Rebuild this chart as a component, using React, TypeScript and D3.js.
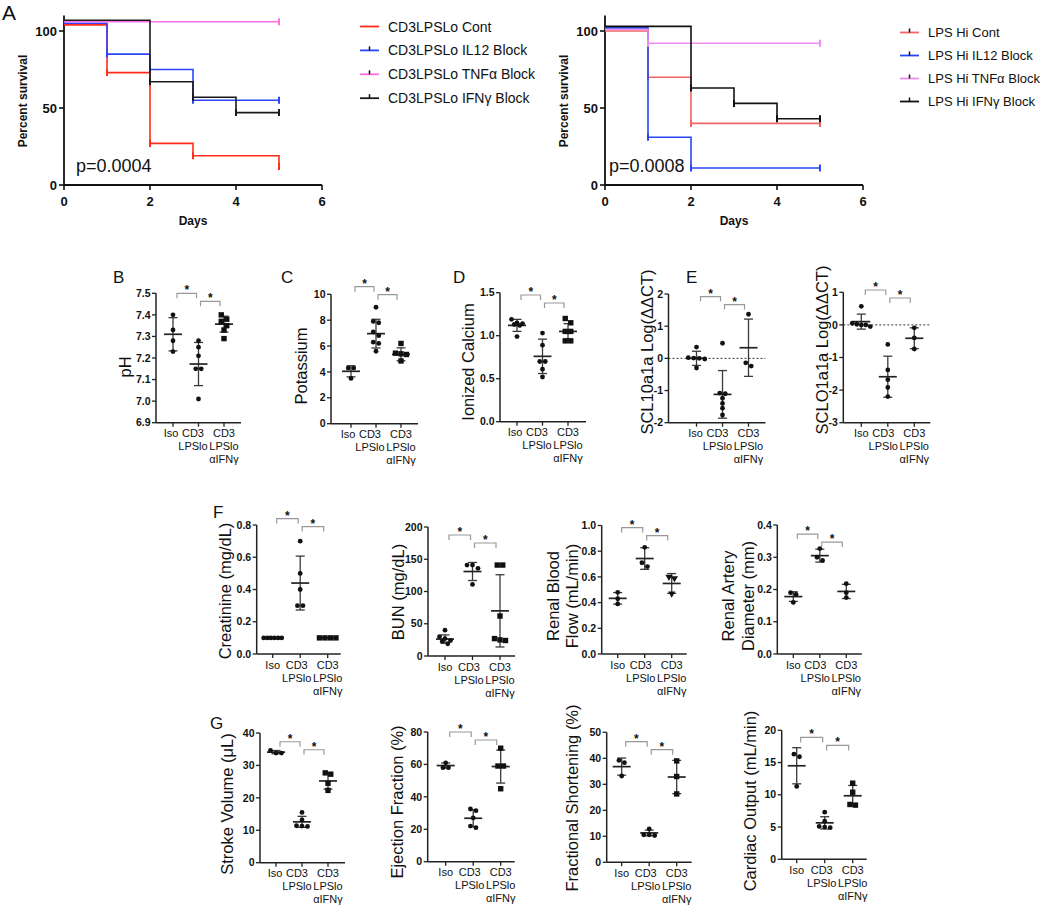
import React from 'react';
import * as d3 from 'd3';

const FONT = '"Liberation Sans", Arial, Helvetica, sans-serif';

// ---------- Panel A: survival ----------
const SURV_DAYS = [0, 1, 2, 3, 4, 5];
const SURV_X_TICKS = [0, 2, 4, 6];
const SURV_Y_TICKS = [0, 50, 100];

const LO_NAMES = ['CD3LPSLo Cont', 'CD3LPSLo IL12 Block', 'CD3LPSLo TNFα Block', 'CD3LPSLo IFNγ Block'];
// value held from day i to i+1; last entry = value at day 5
const LO_CONT = [104, 73, 27, 19, 19, 12];
const LO_IL12 = [105, 85, 75, 55, 55, 55];
const LO_TNF = [106, 106, 106, 106, 106, 106];
const LO_IFN = [107, 107, 67, 57, 47, 47];
const LO_P = 'p=0.0004';

const HI_NAMES = ['LPS Hi Cont', 'LPS Hi IL12 Block', 'LPS Hi TNFα Block', 'LPS Hi IFNγ Block'];
const HI_CONT = [100, 70, 40, 40, 40, 40];
const HI_IL12 = [102, 31, 11, 11, 11, 11];
const HI_TNF = [101, 92, 92, 92, 92, 92];
const HI_IFN = [103, 103, 63, 53, 43, 43];
const HI_P = 'p=0.0008';

// ---------- Panels B-G: dot plots ----------
const GROUPS = ['Iso', 'CD3 LPSlo', 'CD3 LPSlo αIFNγ'];
const GROUP_LINES = [['Iso'], ['CD3', 'LPSlo'], ['CD3', 'LPSlo', 'αIFNγ']];

const PH_TICKS = [6.9, 7.0, 7.1, 7.2, 7.3, 7.4, 7.5];
const PH_ISO = [7.40, 7.33, 7.28, 7.23];
const PH_CD3 = [7.28, 7.25, 7.21, 7.15, 7.15, 7.01];
const PH_IFN = [7.40, 7.38, 7.37, 7.35, 7.33, 7.29];
const PH_MEAN = [7.31, 7.172, 7.357];
const PH_SD = [0.077, 0.1, 0.037];

const K_TICKS = [0, 2, 4, 6, 8, 10];
const K_ISO = [4.3, 4.3, 3.5];
const K_CD3 = [9.0, 7.9, 7.8, 7.1, 6.8, 6.3, 6.2, 5.6];
const K_IFN = [6.2, 5.45, 5.4, 5.35, 4.85];
const K_MEAN = [4.05, 6.96, 5.36];
const K_SD = [0.43, 1.11, 0.5];

const CA_TICKS = [0, 0.5, 1.0, 1.5];
const CA_ISO = [1.19, 1.15, 1.14, 1.13, 1.12, 0.99];
const CA_CD3 = [1.03, 0.89, 0.70, 0.70, 0.61, 0.52];
const CA_IFN = [1.20, 1.15, 1.05, 1.05, 0.94, 0.94];
const CA_MEAN = [1.12, 0.76, 1.05];
const CA_SD = [0.07, 0.2, 0.09];

const SCL_TICKS = [-2, -1, 0, 1, 2];
const SCL_ISO = [0.35, 0.02, 0.01, 0.0, -0.02, -0.3];
const SCL_CD3 = [0.47, -1.08, -1.1, -1.24, -1.4, -1.55, -1.76];
const SCL_IFN = [1.37, -0.14, -0.24];
const SCL_MEAN = [0.0, -1.12, 0.33];
const SCL_SD = [0.22, 0.74, 0.89];

const SLCO_TICKS = [-3, -2, -1, 0, 1];
const SLCO_ISO = [0.57, 0.05, 0.02, 0.0, 0.0, -0.05];
const SLCO_CD3 = [-0.6, -1.38, -1.68, -1.92, -2.2];
const SLCO_IFN = [-0.09, -0.4, -0.74];
const SLCO_MEAN = [0.1, -1.59, -0.41];
const SLCO_SD = [0.23, 0.63, 0.32];

const CR_TICKS = [0, 0.2, 0.4, 0.6, 0.8];
const CR_ISO = [0.1, 0.1, 0.1, 0.1, 0.1, 0.1];
const CR_CD3 = [0.7, 0.5, 0.4, 0.3, 0.3];
const CR_IFN = [0.1, 0.1, 0.1, 0.1];
const CR_MEAN = [0.1, 0.44, 0.1];
const CR_SD = [0, 0.167, 0];

const BUN_TICKS = [0, 50, 100, 150, 200];
const BUN_ISO = [40, 30, 27, 24, 23, 19];
const BUN_CD3 = [141, 141, 136, 111];
const BUN_IFN = [141, 141, 62, 27, 25, 24];
const BUN_MEAN = [26.2, 131, 70];
const BUN_SD = [6.5, 14, 56];

const RBF_TICKS = [0, 0.2, 0.4, 0.6, 0.8, 1.0];
const RBF_ISO = [0.48, 0.43, 0.39];
const RBF_CD3 = [0.83, 0.71, 0.68];
const RBF_IFN = [0.60, 0.59, 0.47];
const RBF_MEAN = [0.433, 0.743, 0.549];
const RBF_SD = [0.045, 0.084, 0.077];

const RAD_TICKS = [0, 0.1, 0.2, 0.3, 0.4];
const RAD_ISO = [0.19, 0.185, 0.16];
const RAD_CD3 = [0.327, 0.30, 0.29];
const RAD_IFN = [0.218, 0.19, 0.175];
const RAD_MEAN = [0.178, 0.305, 0.194];
const RAD_SD = [0.015, 0.02, 0.022];

const SV_TICKS = [0, 10, 20, 30, 40];
const SV_ISO = [34.6, 33.8, 33.8];
const SV_CD3 = [15.5, 13.2, 11.3, 11.2, 11.4];
const SV_IFN = [27.7, 27.3, 24.5, 22.3];
const SV_MEAN = [34.1, 12.6, 25.2];
const SV_SD = [0.5, 1.7, 2.5];

const EF_TICKS = [0, 20, 40, 60, 80];
const EF_ISO = [61, 58, 58];
const EF_CD3 = [32.5, 31.5, 27, 22, 21];
const EF_IFN = [70, 59, 59, 45];
const EF_MEAN = [59.3, 26.8, 58.7];
const EF_SD = [1.6, 5.3, 10.2];

const FS_TICKS = [0, 10, 20, 30, 40, 50];
const FS_ISO = [39.2, 38.3, 33.2];
const FS_CD3 = [12.8, 10.6, 10.3, 10.6];
const FS_IFN = [39, 33, 26.3];
const FS_MEAN = [36.8, 11.3, 32.8];
const FS_SD = [3.3, 1.1, 6.4];

const CO_TICKS = [0, 5, 10, 15, 20];
const CO_ISO = [16.3, 15.9, 11.3];
const CO_CD3 = [7.3, 5.9, 5.1, 5.0, 4.9];
const CO_IFN = [11.8, 10.4, 8.5, 8.4];
const CO_MEAN = [14.5, 5.65, 9.85];
const CO_SD = [2.8, 0.95, 1.6];

// bracket (Iso vs CD3) level in each panel's own units
const BRACKET_LEVELS = [7.5, 10.59, 1.473, 1.92, 1.07, 0.84, 187.6, 0.984, 0.372, 37.3, 80, 46.4, 18.9];

const f1 = (v: number) => v.toFixed(1);
const f0 = (v: number) => String(v);

const CIRCLES = ['circle', 'circle', 'square'];

type Panel = {
  x: number; top: number; bottom: number; width: number; pad: [number, number];
  ticks: number[]; fmt: (v: number) => string;
  values: number[][]; mean: number[]; sd: number[]; bracket: number;
  label: string[]; labelX: number[]; labelY: number; shapes: string[]; zero?: boolean;
};

const PANELS: Panel[] = [
  { x: 156, top: 293.3, bottom: 422.7, width: 85, pad: [17, 68], ticks: PH_TICKS, fmt: f1,
    values: [PH_ISO, PH_CD3, PH_IFN], mean: PH_MEAN, sd: PH_SD, bracket: BRACKET_LEVELS[0],
    label: ['pH'], labelX: [125], labelY: 367, shapes: CIRCLES },
  { x: 331, top: 294.3, bottom: 423.7, width: 87, pad: [20, 70], ticks: K_TICKS, fmt: f0,
    values: [K_ISO, K_CD3, K_IFN], mean: K_MEAN, sd: K_SD, bracket: BRACKET_LEVELS[1],
    label: ['Potassium'], labelX: [301], labelY: 366, shapes: CIRCLES },
  { x: 500, top: 292.7, bottom: 421.7, width: 86, pad: [17, 68], ticks: CA_TICKS, fmt: f1,
    values: [CA_ISO, CA_CD3, CA_IFN], mean: CA_MEAN, sd: CA_SD, bracket: BRACKET_LEVELS[2],
    label: ['Ionized Calcium'], labelX: [468], labelY: 362, shapes: CIRCLES },
  { x: 668.5, top: 294, bottom: 422.7, width: 97, pad: [28, 80], ticks: SCL_TICKS, fmt: f0,
    values: [SCL_ISO, SCL_CD3, SCL_IFN], mean: SCL_MEAN, sd: SCL_SD, bracket: BRACKET_LEVELS[3],
    label: ['SCL10a1a Log(ΔΔCT)'], labelX: [647], labelY: 352, shapes: ['circle', 'circle', 'circle'], zero: true },
  { x: 843.3, top: 292.3, bottom: 422.7, width: 87, pad: [18, 71], ticks: SLCO_TICKS, fmt: f0,
    values: [SLCO_ISO, SLCO_CD3, SLCO_IFN], mean: SLCO_MEAN, sd: SLCO_SD, bracket: BRACKET_LEVELS[4],
    label: ['SCLO1a1a Log(ΔΔCT)'], labelX: [822], labelY: 350, shapes: ['circle', 'circle', 'circle'], zero: true },
  { x: 256.7, top: 525, bottom: 654, width: 84, pad: [16, 71], ticks: CR_TICKS, fmt: f1,
    values: [CR_ISO, CR_CD3, CR_IFN], mean: CR_MEAN, sd: CR_SD, bracket: BRACKET_LEVELS[5],
    label: ['Creatinine (mg/dL)'], labelX: [225], labelY: 591, shapes: CIRCLES },
  { x: 428, top: 527, bottom: 656, width: 87, pad: [17, 72], ticks: BUN_TICKS, fmt: f0,
    values: [BUN_ISO, BUN_CD3, BUN_IFN], mean: BUN_MEAN, sd: BUN_SD, bracket: BRACKET_LEVELS[6],
    label: ['BUN (mg/dL)'], labelX: [398], labelY: 592, shapes: CIRCLES },
  { x: 601.7, top: 525.5, bottom: 654, width: 85, pad: [16, 70], ticks: RBF_TICKS, fmt: f1,
    values: [RBF_ISO, RBF_CD3, RBF_IFN], mean: RBF_MEAN, sd: RBF_SD, bracket: BRACKET_LEVELS[7],
    label: ['Renal Blood', 'Flow (mL/min)'], labelX: [553, 572], labelY: 596, shapes: ['circle', 'circle', 'triangle'] },
  { x: 777.3, top: 525, bottom: 654, width: 84.5, pad: [16, 69], ticks: RAD_TICKS, fmt: f1,
    values: [RAD_ISO, RAD_CD3, RAD_IFN], mean: RAD_MEAN, sd: RAD_SD, bracket: BRACKET_LEVELS[8],
    label: ['Renal Artery', 'Diameter (mm)'], labelX: [728, 748], labelY: 596, shapes: ['circle', 'circle', 'circle'] },
  { x: 260, top: 733, bottom: 862.7, width: 85, pad: [16, 68], ticks: SV_TICKS, fmt: f0,
    values: [SV_ISO, SV_CD3, SV_IFN], mean: SV_MEAN, sd: SV_SD, bracket: BRACKET_LEVELS[9],
    label: ['Stroke Volume (μL)'], labelX: [227], labelY: 804, shapes: CIRCLES },
  { x: 427.7, top: 732, bottom: 861.7, width: 87, pad: [18, 73], ticks: EF_TICKS, fmt: f0,
    values: [EF_ISO, EF_CD3, EF_IFN], mean: EF_MEAN, sd: EF_SD, bracket: BRACKET_LEVELS[10],
    label: ['Ejection Fraction (%)'], labelX: [397], labelY: 802, shapes: CIRCLES },
  { x: 606.7, top: 732.3, bottom: 862.3, width: 85, pad: [15, 70], ticks: FS_TICKS, fmt: f0,
    values: [FS_ISO, FS_CD3, FS_IFN], mean: FS_MEAN, sd: FS_SD, bracket: BRACKET_LEVELS[11],
    label: ['Fractional Shortening (%)'], labelX: [572], labelY: 798, shapes: CIRCLES },
  { x: 781.7, top: 730.3, bottom: 859.3, width: 85, pad: [15, 71], ticks: CO_TICKS, fmt: f0,
    values: [CO_ISO, CO_CD3, CO_IFN], mean: CO_MEAN, sd: CO_SD, bracket: BRACKET_LEVELS[12],
    label: ['Cardiac Output (mL/min)'], labelX: [750], labelY: 801, shapes: CIRCLES },
];

const LETTERS = [
  { t: 'B', x: 113, y: 283 }, { t: 'C', x: 281, y: 283 }, { t: 'D', x: 453, y: 283 },
  { t: 'E', x: 686, y: 283 }, { t: 'F', x: 213, y: 518 }, { t: 'G', x: 210, y: 729 },
];

// spread points that sit at nearly the same height side by side
function spread(vals: number[], y: d3.ScaleLinear<number, number>) {
  const sorted = vals.map(v => ({ v, py: y(v) })).sort((a, b) => a.py - b.py);
  const rows: { v: number; py: number }[][] = [];
  sorted.forEach(d => {
    const last = rows[rows.length - 1];
    if (last && d.py - last[0].py < 4.5) last.push(d);
    else rows.push([d]);
  });
  const out: { py: number; dx: number }[] = [];
  rows.forEach(r => {
    const step = Math.min(5.5, 18 / Math.max(1, r.length - 1));
    r.forEach((d, k) => out.push({ py: d.py, dx: (k - (r.length - 1) / 2) * step }));
  });
  return out;
}

function Marker({ shape, cx, cy }: { shape: string; cx: number; cy: number }) {
  if (shape === 'square') return <rect x={cx - 2.7} y={cy - 2.7} width={5.4} height={5.4} fill="#111" />;
  if (shape === 'triangle') {
    const s = d3.symbol().type(d3.symbolTriangle).size(22)();
    return <path d={s || ''} transform={`translate(${cx},${cy}) rotate(180)`} fill="#111" />;
  }
  return <circle cx={cx} cy={cy} r={2.4} fill="#111" />;
}

function DotPanel({ p }: { p: Panel }) {
  const dom = d3.extent(p.ticks) as [number, number];
  const y = d3.scaleLinear().domain(dom).range([p.bottom, p.top]);
  const x = d3.scalePoint<string>().domain(GROUPS).range([p.x + p.pad[0], p.x + p.pad[1]]);
  const cx = GROUPS.map(g => x(g) as number);
  // labels step left when the columns are tight (as Prism does)
  const mid = Math.min(cx[1], cx[2] - 31);
  const textX = [Math.min(cx[0], mid - 22), mid, cx[2]];
  const b1 = y(p.bracket);
  const b2 = b1 + 8;
  const brackets = [
    { x1: cx[0] + 4, x2: cx[1] - 2, y: b1 },
    { x1: cx[1] + 2, x2: cx[2] - 4, y: b2 },
  ];
  return (
    <g>
      {p.zero && (
        <line x1={p.x} x2={p.x + p.width} y1={y(0)} y2={y(0)} stroke="#333" strokeWidth={1} strokeDasharray="2,2" />
      )}
      {/* axes */}
      <line x1={p.x} x2={p.x} y1={p.top} y2={p.bottom} stroke="#222" strokeWidth={1.5} />
      <line x1={p.x} x2={p.x + p.width} y1={p.bottom} y2={p.bottom} stroke="#222" strokeWidth={1.5} />
      {p.ticks.map(t => (
        <g key={t}>
          <line x1={p.x - 4} x2={p.x} y1={y(t)} y2={y(t)} stroke="#222" strokeWidth={1.3} />
          <text x={p.x - 5.5} y={y(t)} dy="0.35em" textAnchor="end" fontSize={10.5} fontWeight="bold" fill="#111">
            {p.fmt(t)}
          </text>
        </g>
      ))}
      {cx.map((c, i) => (
        <g key={i}>
          <line x1={c} x2={c} y1={p.bottom} y2={p.bottom + 4} stroke="#222" strokeWidth={1.3} />
          {GROUP_LINES[i].map((s, k) => (
            <text key={k} x={textX[i]} y={p.bottom + 14.5 + k * 13} textAnchor="middle" fontSize={11} fill="#111">
              {s}
            </text>
          ))}
        </g>
      ))}
      {/* axis title */}
      {p.label.map((s, k) => (
        <text key={k} transform={`translate(${p.labelX[k]},${p.labelY}) rotate(-90)`} dy="0.35em"
          textAnchor="middle" fontSize={16.5} fill="#111">{s}</text>
      ))}
      {/* mean and SD */}
      {cx.map((c, i) => {
        const lo = y(p.mean[i] - p.sd[i]);
        const hi = y(p.mean[i] + p.sd[i]);
        return (
          <g key={i} stroke="#3a3a3a">
            {p.sd[i] > 0 && (
              <>
                <line x1={c} x2={c} y1={hi} y2={lo} strokeWidth={1.3} />
                <line x1={c - 4.5} x2={c + 4.5} y1={hi} y2={hi} strokeWidth={1.3} />
                <line x1={c - 4.5} x2={c + 4.5} y1={lo} y2={lo} strokeWidth={1.3} />
              </>
            )}
            <line x1={c - 9} x2={c + 9} y1={y(p.mean[i])} y2={y(p.mean[i])} strokeWidth={1.7} stroke="#222" />
          </g>
        );
      })}
      {/* points */}
      {p.values.map((vals, i) =>
        spread(vals, y).map((d, k) => <Marker key={`${i}-${k}`} shape={p.shapes[i]} cx={cx[i] + d.dx} cy={d.py} />)
      )}
      {/* significance brackets */}
      {brackets.map((b, k) => (
        <g key={k}>
          <path d={`M${b.x1},${b.y + 5}V${b.y}H${b.x2}V${b.y + 5}`} fill="none" stroke="#999" strokeWidth={1.2} />
          <text x={(b.x1 + b.x2) / 2} y={b.y + 1} textAnchor="middle" fontSize={12} fontWeight="bold" fill="#111">*</text>
        </g>
      ))}
    </g>
  );
}

type SurvProps = {
  x0: number; names: string[]; series: number[][]; colors: string[]; pText: string; pX: number;
  legendX: number; legendY0: number; legendGap: number; legendSize: number; legendTick: boolean[];
};

function SurvivalPanel({ x0, names, series, colors, pText, pX, legendX, legendY0, legendGap, legendSize, legendTick }: SurvProps) {
  const x = d3.scaleLinear().domain([0, 6]).range([x0, x0 + 258]);
  const y = d3.scaleLinear().domain([0, 110]).range([185, 15.6]);
  const line = d3.line<number>().x((_, i) => x(SURV_DAYS[i])).y(v => y(v)).curve(d3.curveStepAfter);
  return (
    <g>
      <line x1={x0} x2={x0} y1={y(110)} y2={y(0)} stroke="#111" strokeWidth={1.8} />
      <line x1={x0} x2={x(6)} y1={y(0)} y2={y(0)} stroke="#111" strokeWidth={1.8} />
      {SURV_Y_TICKS.map(t => (
        <g key={t}>
          <line x1={x0 - 5} x2={x0} y1={y(t)} y2={y(t)} stroke="#111" strokeWidth={1.6} />
          <text x={x0 - 7} y={y(t)} dy="0.36em" textAnchor="end" fontSize={13} fontWeight="bold" fill="#111">{t}</text>
        </g>
      ))}
      {SURV_X_TICKS.map(t => (
        <g key={t}>
          <line x1={x(t)} x2={x(t)} y1={y(0)} y2={y(0) + 5} stroke="#111" strokeWidth={1.6} />
          <text x={x(t)} y={y(0) + 21} textAnchor="middle" fontSize={13} fontWeight="bold" fill="#111">{t}</text>
        </g>
      ))}
      <text x={x(3)} y={y(0) + 40} textAnchor="middle" fontSize={12} fontWeight="bold" fill="#111">Days</text>
      <text transform={`translate(${x0 - 41},${101}) rotate(-90)`} dy="0.35em" textAnchor="middle"
        fontSize={12} fontWeight="bold" fill="#111">Percent survival</text>
      {series.map((s, i) => (
        <g key={i} stroke={colors[i]} strokeWidth={1.6} fill="none">
          <path d={line(s) || ''} />
          {s.map((v, d) =>
            d > 0 && (v < s[d - 1] || d === s.length - 1) ? (
              <line key={d} x1={x(SURV_DAYS[d])} x2={x(SURV_DAYS[d])} y1={y(v) - 3.5} y2={y(v) + 3.5} strokeWidth={2} />
            ) : null
          )}
        </g>
      ))}
      <text x={pX} y={172} fontSize={18} fill="#111">{pText}</text>
      {names.map((n, i) => {
        const ly = legendY0 + i * legendGap;
        return (
          <g key={n}>
            <line x1={legendX} x2={legendX + 19} y1={ly} y2={ly} stroke={colors[i]} strokeWidth={1.8} />
            {legendTick[i] && (
              <line x1={legendX + 9.5} x2={legendX + 9.5} y1={ly - 4} y2={ly} stroke="#111" strokeWidth={1.5} />
            )}
            <text x={legendX + 28} y={ly} dy="0.36em" fontSize={legendSize} fill="#111">{n}</text>
          </g>
        );
      })}
    </g>
  );
}

export default function App() {
  return (
    <svg width={1050} height={906} viewBox="0 0 1050 906"
      style={{ position: 'absolute', left: 0, top: 0, background: '#fff', fontFamily: FONT }}>
      <rect width={1050} height={906} fill="#fff" />
      <text x={2} y={20} fontSize={21} fill="#111">A</text>
      <SurvivalPanel x0={64} names={LO_NAMES} series={[LO_CONT, LO_IL12, LO_TNF, LO_IFN]}
        colors={['#ff2d1a', '#2b45ff', '#ff6ee6', '#1a1a1a']} pText={LO_P} pX={76}
        legendX={360} legendY0={26.5} legendGap={23.9} legendSize={14} legendTick={[false, true, true, true]} />
      <SurvivalPanel x0={605} names={HI_NAMES} series={[HI_CONT, HI_IL12, HI_TNF, HI_IFN]}
        colors={['#f46464', '#2747f5', '#f08cf0', '#111111']} pText={HI_P} pX={609}
        legendX={900} legendY0={32.5} legendGap={23} legendSize={13} legendTick={[true, true, true, true]} />
      {LETTERS.map(l => (
        <text key={l.t} x={l.x} y={l.y} fontSize={17} fill="#111">{l.t}</text>
      ))}
      {PANELS.map((p, i) => <DotPanel key={i} p={p} />)}
    </svg>
  );
}
